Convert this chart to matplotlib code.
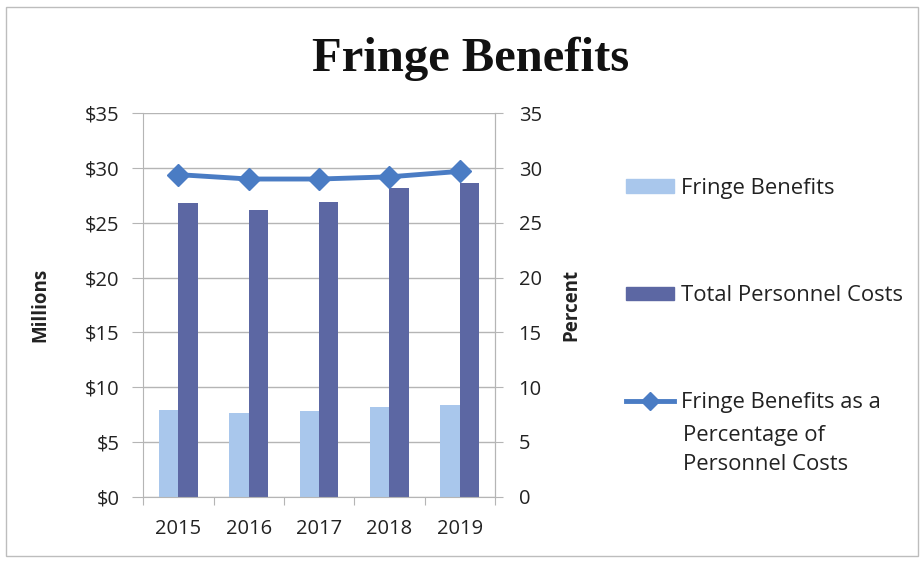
import matplotlib
matplotlib.use("Agg")
import matplotlib.pyplot as plt
import numpy as np
from matplotlib.patches import Rectangle, Patch
from matplotlib.lines import Line2D

years = ["2015", "2016", "2017", "2018", "2019"]
fringe = [7.9, 7.6, 7.8, 8.2, 8.4]
total = [26.8, 26.2, 26.9, 28.2, 28.6]
pct = [29.4, 29.0, 29.0, 29.2, 29.7]
left_ticks = [0, 5, 10, 15, 20, 25, 30, 35]
left_labels = ["$0", "$5", "$10", "$15", "$20", "$25", "$30", "$35"]

plt.rcParams['font.family'] = ['Open Sans', 'DejaVu Sans']
TXT = '#222222'
GRID = '#b5b5b5'
C_FR = '#a9c7ec'
C_TOT = '#5c67a3'
C_LINE = '#4a7cc4'

fig = plt.figure(figsize=(9.23, 5.62), dpi=100)
fig.patches.append(Rectangle((6/923, 1-556/562), 912/923, 549/562, transform=fig.transFigure,
                             fill=False, edgecolor='#bdbdbd', linewidth=1.0))

ax = fig.add_axes([143.3/923, 1-496.7/562, 351.7/923, 383.4/562])
x = np.arange(len(years))
w = 0.275
ax.bar(x - w/2, fringe, w, color=C_FR, zorder=2)
ax.bar(x + w/2, total, w, color=C_TOT, zorder=2)
ax.set_xlim(-0.5, len(years) - 0.5)
ax.set_ylim(0, 35)
ax.set_yticks(left_ticks)
ax.set_yticklabels(left_labels)
ax.yaxis.grid(True, color=GRID, linewidth=1.0, zorder=0)
ax.set_axisbelow(True)
ax.set_xticks(np.arange(-0.5, len(years), 1.0))
ax.set_xticklabels([])
ax.set_xticks(x, minor=True)
ax.set_xticklabels(years, minor=True)
ax.tick_params(axis='x', which='major', length=6, color=GRID, direction='out')
ax.tick_params(axis='x', which='minor', length=0, pad=16, labelsize=14.5, labelcolor=TXT)
ax.tick_params(axis='y', length=8, color=GRID, pad=9, labelsize=14.5, labelcolor=TXT)
for s in ['top']:
    ax.spines[s].set_visible(False)
for s in ['left', 'bottom', 'right']:
    ax.spines[s].set_color(GRID)
ax.set_ylabel("Millions", fontsize=13.5, fontweight='bold', color=TXT, labelpad=25)

ax2 = ax.twinx()
ax2.plot(x, pct, color=C_LINE, linewidth=3.5, marker='D', markersize=11, zorder=3)
ax2.set_ylim(0, 35)
ax2.set_yticks(left_ticks)
ax2.tick_params(axis='y', length=6, color=GRID, pad=11, labelsize=14.5, labelcolor=TXT)
for s in ['top', 'left', 'bottom']:
    ax2.spines[s].set_visible(False)
ax2.spines['right'].set_color(GRID)
ax2.set_ylabel("Percent", fontsize=13.5, fontweight='bold', color=TXT, labelpad=14)

fig.text(471/923, 1-59/562, "Fringe Benefits", ha='center', va='center',
         fontsize=35, fontweight='bold', family=['Liberation Serif', 'DejaVu Serif'], color='#111111')

handles = [Patch(color=C_FR), Patch(color=C_TOT),
           Line2D([0], [0], color=C_LINE, linewidth=3.5, marker='D', markersize=9)]
labels = ["Fringe Benefits", "Total Personnel Costs", "Fringe Benefits as a"]
leg = fig.legend(handles, labels, loc='upper left', bbox_to_anchor=(626/923, 1-178/562),
                 frameon=False, fontsize=15.8, labelspacing=3.93, handlelength=2.2,
                 handleheight=0.6, handletextpad=0.3, borderaxespad=0, borderpad=0)
for t in leg.get_texts():
    t.set_color(TXT)
fig.text(683/923, 1-450/562, "Percentage of\nPersonnel Costs", ha='left', va='center',
         fontsize=15.8, color=TXT, linespacing=1.45)

fig.savefig("out.png", dpi=100)
